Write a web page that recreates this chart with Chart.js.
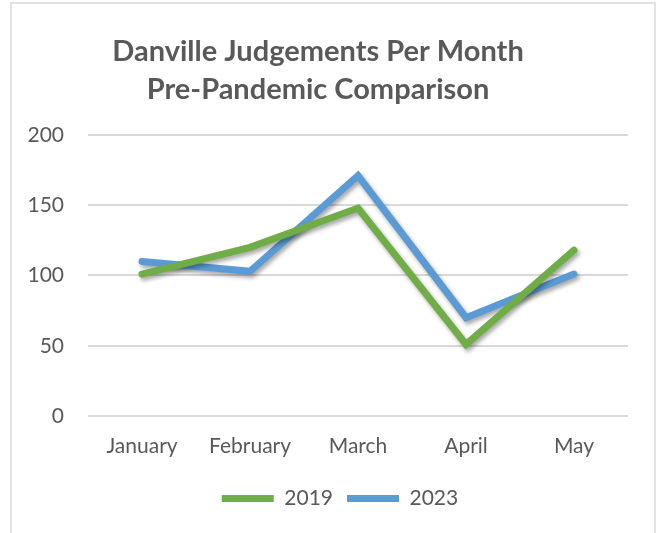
<!DOCTYPE html>
<html>
<head>
<meta charset="utf-8">
<script src="https://cdn.jsdelivr.net/npm/chart.js@4.4.0/dist/chart.umd.min.js"></script>
<style>
  html, body { margin: 0; padding: 0; background: #fff; overflow: hidden; }
  .frame { position: absolute; left: 10px; top: 2px; width: 642px; height: 600px; border: 2px solid #e2e2e2; }
  #wrap { position: absolute; left: 0; top: 0; width: 659px; height: 533px; }
</style>
</head>
<body>
<div class="frame"></div>
<div id="wrap"><canvas id="myChart" width="659" height="533"></canvas></div>
<script>
const months = ['January', 'February', 'March', 'April', 'May']
const judgements2019 = [101, 120, 148, 51, 118]
const judgements2023 = [110, 103, 171, 70, 101]
const yTicks = [0, 50, 100, 150, 200]

const textGrey = '#595959'
const fontFamily = 'Lato, "Open Sans", sans-serif'

// soft shadow under the lines, like the Excel original
const lineShadow = {
  id: 'lineShadow',
  beforeDatasetsDraw(chart) {
    const c = chart.ctx
    c.save()
    c.shadowColor = 'rgba(0,0,0,0.35)'
    c.shadowBlur = 4
    c.shadowOffsetX = 2
    c.shadowOffsetY = 3
  },
  afterDatasetsDraw(chart) {
    chart.ctx.restore()
  }
}

// nudge legend to the right, the original is not centred on the title
const legendShift = {
  id: 'legendShift',
  afterLayout(chart) {
    if (!chart.legend) return
    chart.legend.left += 22
    chart.legend.right += 22
  }
}

let ctx = document.querySelector('#myChart').getContext('2d')
let myChart = new Chart(ctx, {
  type: 'line',
  data: {
    labels: months,
    datasets: [{
      label: '2019',
      data: judgements2019,
      borderColor: '#70AD47',
      backgroundColor: '#70AD47',
      borderWidth: 7,
      pointRadius: 0,
      borderCapStyle: 'round',
      borderJoinStyle: 'miter'
    }, {
      label: '2023',
      data: judgements2023,
      borderColor: '#5B9BD5',
      backgroundColor: '#5B9BD5',
      borderWidth: 7,
      pointRadius: 0,
      borderCapStyle: 'round',
      borderJoinStyle: 'miter'
    }]
  },
  options: {
    responsive: false,
    animation: false,
    layout: { padding: { left: 8, right: 31, top: 0, bottom: 14 } },
    plugins: {
      title: {
        display: true,
        text: ['Danville Judgements Per Month', 'Pre-Pandemic Comparison'],
        color: textGrey,
        font: { family: fontFamily, size: 29, weight: 'bold', lineHeight: 1.31 },
        padding: { top: 33, bottom: 26 }
      },
      legend: {
        position: 'bottom',
        labels: {
          color: textGrey,
          font: { family: fontFamily, size: 21 },
          boxWidth: 52,
          boxHeight: 7,
          padding: 14,
          useBorderRadius: true,
          borderRadius: 3.5,
          generateLabels(chart) {
            return chart.data.datasets.map((ds, i) => ({
              text: ds.label,
              fillStyle: ds.borderColor,
              strokeStyle: ds.borderColor,
              lineWidth: 0,
              fontColor: textGrey,
              datasetIndex: i,
              hidden: false
            }))
          }
        }
      },
      tooltip: { enabled: false }
    },
    scales: {
      x: {
        offset: true,
        grid: { display: false, drawTicks: false },
        border: { display: false },
        ticks: { color: textGrey, font: { family: fontFamily, size: 21 }, padding: 18 },
        afterFit(scale) { scale.height = 58 }
      },
      y: {
        min: 0,
        max: 200,
        afterBuildTicks(scale) { scale.ticks = yTicks.map(v => ({ value: v })) },
        grid: { color: '#d9d9d9', lineWidth: 2, drawTicks: false },
        border: { display: false },
        ticks: { color: textGrey, font: { family: fontFamily, size: 21 }, padding: 24 },
        afterFit(scale) { scale.width = 80 }
      }
    }
  },
  plugins: [lineShadow, legendShift]
})
</script>
</body>
</html>
